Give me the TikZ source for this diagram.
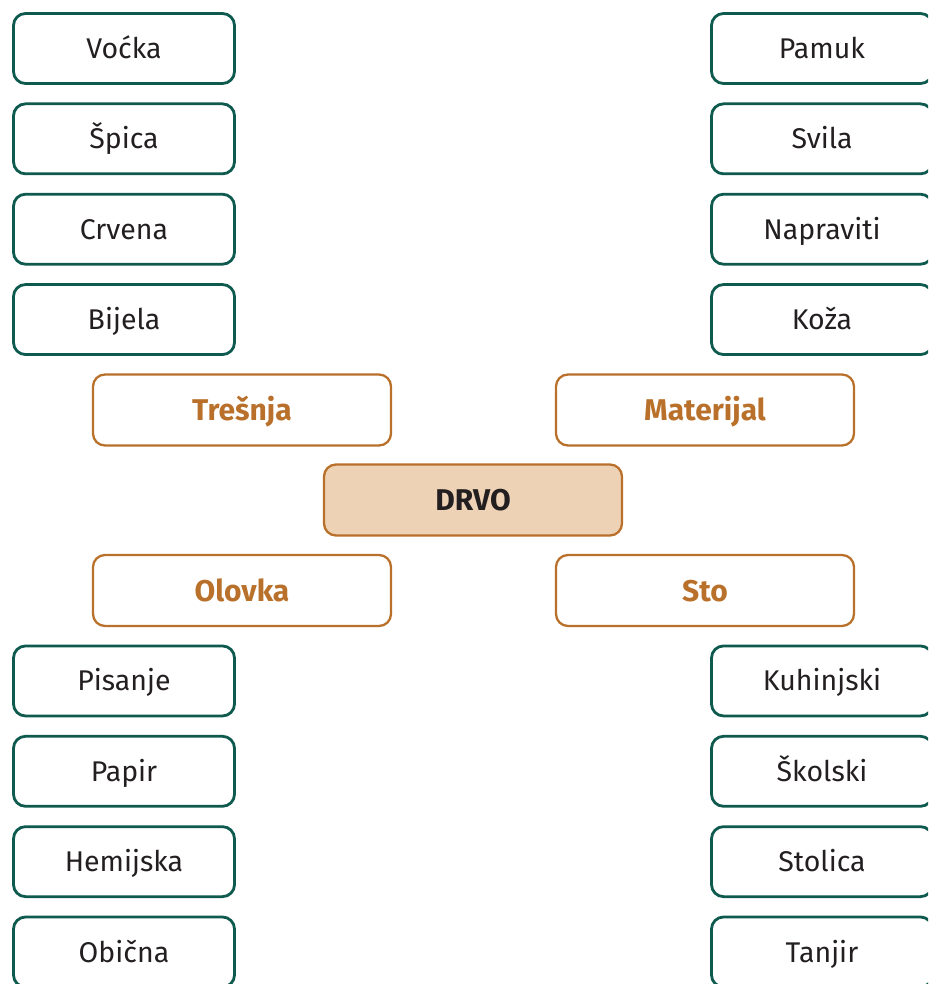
\documentclass[tikz,border=0pt]{standalone}
\usepackage{fontspec}
\setmainfont{Fira Sans}
\usetikzlibrary{positioning}
\definecolor{darkteal}{HTML}{0F5A4E}
\definecolor{woodorange}{HTML}{B8702A}
\definecolor{woodfill}{HTML}{EDD2B6}
\definecolor{textgray}{HTML}{231F20}

\begin{document}
\begin{tikzpicture}[x=1pt,y=-1pt,
  wordbox/.style={draw=darkteal,line width=2.8pt,rounded corners=12pt,
    minimum width=221pt,minimum height=70pt,inner sep=0pt,
    text height=26pt,text depth=6pt,
    font=\fontsize{28.5}{32}\selectfont,text=textgray},
  groupbox/.style={draw=woodorange,line width=2.3pt,rounded corners=12pt,
    minimum width=298pt,minimum height=71pt,inner sep=0pt,
    text height=27pt,text depth=6pt,
    font=\fontsize{30}{34}\selectfont\bfseries,text=woodorange}]
  \useasboundingbox (0,0) rectangle (928,984);
  \clip (0,0) rectangle (928,984);

  % Centre word
  \node[groupbox,fill=woodfill,text=textgray] (drvo) at (473,500) {DRVO};

  % Four groups round the centre
  \node[groupbox] (tresnja) at (242,410) {Trešnja};
  \node[groupbox] (materijal) at (705,410) {Materijal};
  \node[groupbox] (olovka) at (242,590.5) {Olovka};
  \node[groupbox] (sto) at (705,590.5) {Sto};

  % Words of the upper groups
  \foreach \word/\row in {Voćka/0, Špica/1, Crvena/2, Bijela/3} {
    \node[wordbox] (up-left-\row) at (124,48.5+90.35*\row) {\word};
  }
  \foreach \word/\row in {Pamuk/0, Svila/1, Napraviti/2, Koža/3} {
    \node[wordbox] (up-right-\row) at (822,48.5+90.35*\row) {\word};
  }

  % Words of the lower groups
  \foreach \word/\row in {Pisanje/7, Papir/8, Hemijska/9, Obična/10} {
    \node[wordbox] (low-left-\row) at (124,48.5+90.35*\row) {\word};
  }
  \foreach \word/\row in {Kuhinjski/7, Školski/8, Stolica/9, Tanjir/10} {
    \node[wordbox] (low-right-\row) at (822,48.5+90.35*\row) {\word};
  }
\end{tikzpicture}
\end{document}
